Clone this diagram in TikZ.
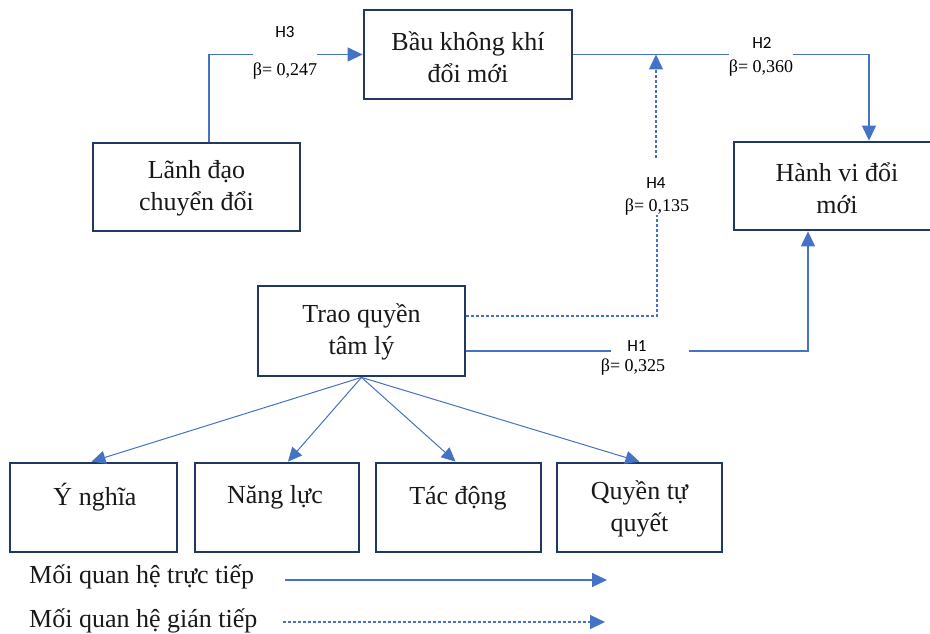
\documentclass[tikz,border=0pt]{standalone}
\usepackage{fontspec}
\setmainfont{Liberation Serif}
\newfontfamily\calib{Carlito}
\usetikzlibrary{arrows.meta,calc}
\definecolor{boxc}{HTML}{1F3864}
\definecolor{linec}{HTML}{4472C4}
\begin{document}
\begin{tikzpicture}[x=1pt,y=-1pt,
 box/.style={draw=boxc,line width=2.8pt,inner sep=0pt},
 btxt/.style={font=\fontsize{26}{32}\selectfont,align=center,inner sep=0pt,text=black!90},
 conn/.style={draw=linec,line width=1.2pt},
 dconn/.style={conn,dash pattern=on 3pt off 2pt},
 tip/.style={-{Triangle[length=15pt,width=14pt]},linec},
 hlab/.style={font=\calib\fontsize{17}{20}\selectfont,inner sep=0pt},
 blab/.style={font=\fontsize{18}{20}\selectfont,inner sep=0pt},
]
\useasboundingbox[fill=white] (0,0) rectangle (930,634);
% boxes
\node[box,minimum width=208pt,minimum height=89pt] (bau) at (468,54.5) {};
\node[box,minimum width=207pt,minimum height=88pt] (lanh) at (196.5,187) {};
\node[box,minimum width=206pt,minimum height=88pt] (hanh) at (837,186) {};
\node[box,minimum width=207pt,minimum height=90pt] (trao) at (361.5,331) {};
\node[box,minimum width=167pt,minimum height=89pt] (ynghia) at (93.5,507.5) {};
\node[box,minimum width=164pt,minimum height=89pt] (nang) at (277,507.5) {};
\node[box,minimum width=165pt,minimum height=89pt] (tac) at (458.5,507.5) {};
\node[box,minimum width=165pt,minimum height=89pt] (quyen) at (639.5,507.5) {};
% box texts
\node[btxt] (baut) at (468,57) {Bầu không khí\\đổi mới};
\node[btxt] (lanht) at (196.5,188) {Lãnh đạo\\chuyển đổi};
\node[btxt] (hanht) at (837,188) {Hành vi đổi\\mới};
\node[btxt] (traot) at (361.5,332) {Trao quyền\\tâm lý};
\node[btxt] (ynghiat) at (95,497) {Ý nghĩa};
\node[btxt] (nangt) at (275,497) {Năng lực};
\node[btxt] (tact) at (458,498) {Tác động};
\node[btxt] (quyent) at (639.5,509) {Quyền tự\\quyết};
% labels
\node[hlab] (h3) at (285,32) {H3};
\node[blab] (h3b) at (285,71) {β= 0,247};
\node[hlab] (h2) at (762,43) {H2};
\node[blab] (h2b) at (761,68) {β= 0,360};
\node[hlab] (h4) at (656,183) {H4};
\node[blab] (h4b) at (657,207) {β= 0,135};
\node[hlab] (h1) at (637,346) {H1};
\node[blab] (h1b) at (633,367) {β= 0,325};
% H3
\draw[conn] ([xshift=12.5pt]lanh.north) |- (h3b.west |- bau.west);
\draw[conn,tip] (h3b.east |- bau.west) -- (bau.west);
% H2
\draw[conn] (bau.east) -- (h2b.west |- bau.east);
\draw[conn,tip] (h2b.east |- bau.east) -| ([xshift=32pt]hanh.north);
% H4
\draw[dconn] ([yshift=15pt]trao.east) -| (h4b.south);
\draw[dconn,tip] ([yshift=19pt]h4.north) -- (h4.north |- bau.east);
% H1
\draw[conn] ([yshift=-20pt]trao.east) -- ([xshift=10pt,yshift=-20pt]trao.east -| h1b.west);
\draw[conn,tip] ([xshift=24pt,yshift=-20pt]trao.east -| h1b.east) -| ([xshift=-29pt]hanh.south);
% tree
\draw[conn,line width=1pt,-{Triangle[length=14pt,width=13pt]}] (trao.south) -- ([xshift=-2pt]ynghia.north);
\draw[conn,line width=1pt,-{Triangle[length=14pt,width=13pt]}] (trao.south) -- ([xshift=11pt]nang.north);
\draw[conn,line width=1pt,-{Triangle[length=14pt,width=13pt]}] (trao.south) -- ([xshift=-3pt]tac.north);
\draw[conn,line width=1pt,-{Triangle[length=14pt,width=13pt]}] (trao.south) -- (quyen.north);
% legend
\node[btxt,anchor=west] (leg1) at (29,577) {Mối quan hệ trực tiếp};
\node[btxt,anchor=west] (leg2) at (29,621) {Mối quan hệ gián tiếp};
\coordinate (l1a) at (285,580);
\coordinate (l1b) at (607,580);
\coordinate (l2a) at (283,622);
\coordinate (l2b) at (605,622);
\draw[conn,tip] (l1a) -- (l1b);
\draw[dconn,tip] (l2a) -- (l2b);
\end{tikzpicture}
\end{document}
